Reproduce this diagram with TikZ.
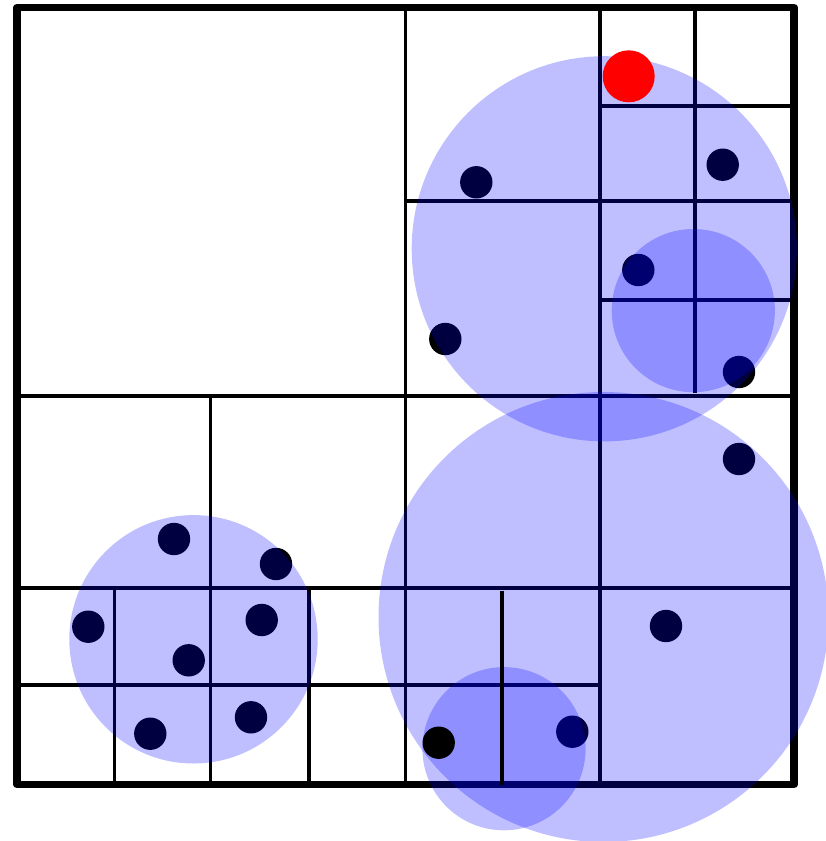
\documentclass[tikz,border=0pt]{standalone}
\tikzset{
  gridline/.style={line width=3.6pt, draw=black},
  frame/.style={line width=7.6pt, draw=black, line join=round},
  dot/.style={fill=black},
  qdot/.style={fill=red},
  ball/.style={fill=blue, fill opacity=0.25},
}
\begin{document}
\begin{tikzpicture}[x=1pt,y=-1pt]
\useasboundingbox (0,0) rectangle (825,841);
% outer frame
\draw[frame] (17,7.5) rectangle (794,784.5);
% level 1
\draw[gridline] (405.3,7.5) -- (405.3,784.5);
\draw[gridline] (17,396) -- (794,396);
% NE quadrant
\draw[gridline] (600,7.5) -- (600,396);
\draw[gridline] (405.3,201.2) -- (794,201.2);
\draw[gridline] (694.8,7.5) -- (694.8,201.2);
\draw[gridline] (600,106) -- (794,106);
\draw[gridline] (694.8,201.2) -- (694.8,393);
\draw[gridline] (602,299.8) -- (794,299.8);
% SW quadrant
\draw[gridline] (210.3,396) -- (210.3,784.5);
\draw[gridline] (17,588) -- (405.3,588);
\draw[gridline] (114.3,588) -- (114.3,784.5);
\draw[gridline] (17,685.2) -- (210.3,685.2);
\draw[gridline] (309,588) -- (309,784.5);
\draw[gridline] (210.3,685.2) -- (405.3,685.2);
% SE quadrant
\draw[gridline] (600,396) -- (600,784.5);
\draw[gridline] (405.3,588) -- (794,588);
\draw[gridline] (405.3,685.2) -- (602,685.2);
% points
\foreach \px/\py in {476.3/182.3, 722.7/164.7, 638.3/270, 445.3/339, 739/372,
  739/459, 174/539, 276/564, 88.3/626.7, 261.7/620, 188.7/660.3, 150.3/733.7,
  251/717.3, 666/626, 572.3/731.7}
  \fill[dot] (\px,\py) circle (16.2);
% balls
\fill[ball] (604.3,248.8) circle (192.6);
\fill[ball] (693.3,310.6) circle (81.6);
\fill[ball] (603.5,617) circle (225);
\fill[ball] (504,748.7) circle (81.6);
\fill[ball] (193.5,639.3) circle (124.2);
% top layer
\draw[gridline] (501.7,590.5) -- (501.7,784.5);
\fill[dot] (438.7,742.7) circle (16.2);
\fill[qdot] (628.7,76.3) circle (26);
\end{tikzpicture}
\end{document}
